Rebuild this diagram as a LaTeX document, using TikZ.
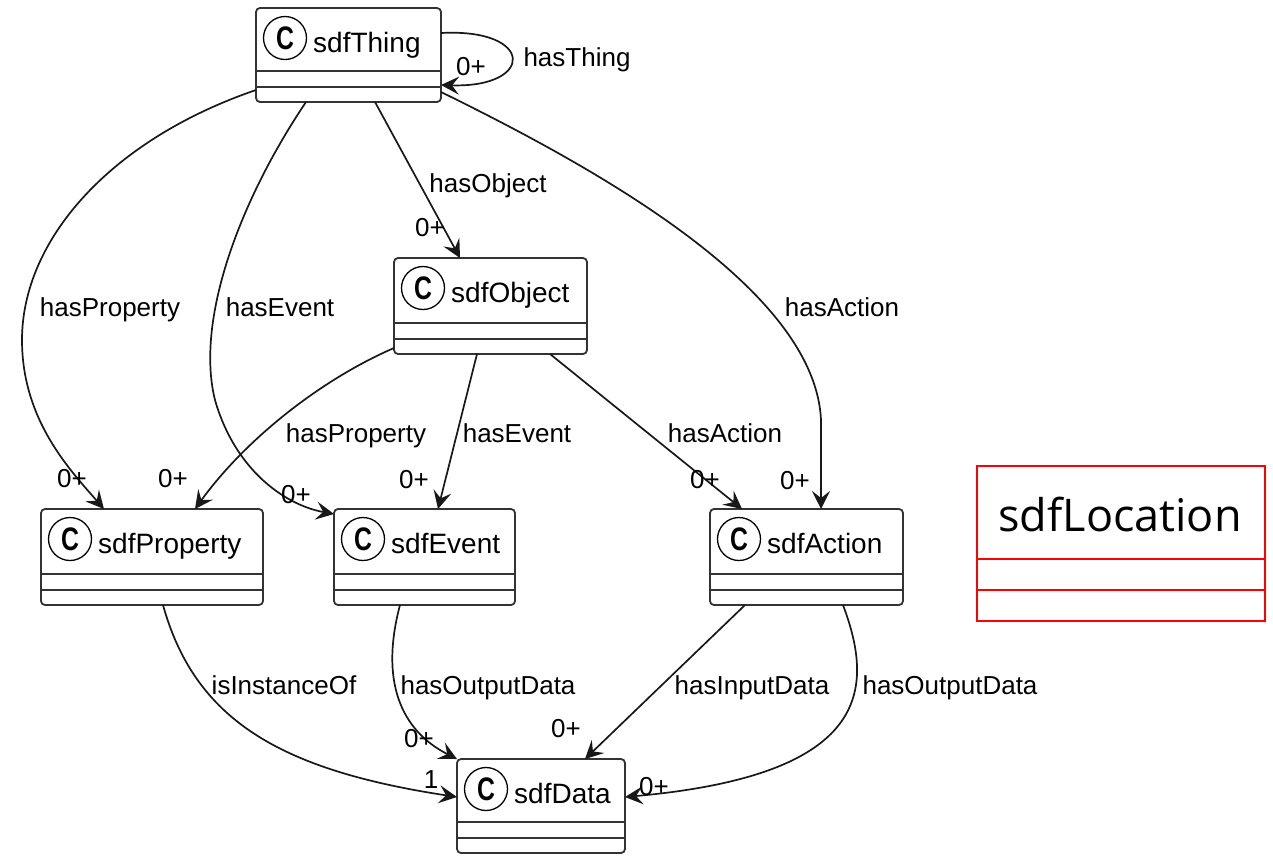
\documentclass[tikz,border=0pt]{standalone}
\usepackage{fontspec}
\setmainfont{Liberation Sans}
\newfontfamily\locfont{Open Sans}
\usetikzlibrary{arrows.meta,calc}
\definecolor{linec}{HTML}{181818}
\definecolor{boxc}{HTML}{333333}
\newcommand{\umlclass}[6]{%
  \node[classbox, minimum width={(#4)-(#2)}, minimum height={(#5)-(#3)}] (#1) at ({((#2)+(#4))/2},{((#3)+(#5))/2}) {};
  \draw[classline] ([yshift=31pt]#1.south west) -- ([yshift=31pt]#1.south east);
  \draw[classline] ([yshift=15pt]#1.south west) -- ([yshift=15pt]#1.south east);
  \node[circ] (#1-c) at ([xshift=29pt,yshift=-30pt]#1.north west) {\scalebox{0.8}[1.05]{C}};
  \node[ctitle] (#1-t) at ([xshift=57pt,yshift=-44pt]#1.north west) {#6};
}
\begin{document}
\begin{tikzpicture}[x=1pt,y=-1pt,
  classbox/.style={draw=boxc, line width=1.8pt, rounded corners=4pt, fill=white, inner sep=0pt, outer sep=0pt},
  classline/.style={draw=boxc, line width=1.6pt},
  circ/.style={circle, draw=black, line width=1.3pt, minimum size=43pt, inner sep=0pt, font=\fontsize{31}{31}\selectfont\bfseries},
  ctitle/.style={font=\fontsize{28}{28}\selectfont, inner sep=0pt, anchor=base west},
  lbl/.style={font=\fontsize{26}{26}\selectfont, inner sep=0pt, anchor=base},
  edge/.style={draw=linec, line width=1.7pt, -{Stealth[length=18pt,width=18pt,inset=7pt]}},
  locbox/.style={draw=red, line width=2.5pt, inner sep=0pt, outer sep=0pt}
]
\useasboundingbox (0,0) rectangle (1273,855);

\umlclass{T}{256}{8}{441}{102}{sdfThing}
\umlclass{O}{394}{258}{587}{354}{sdfObject}
\umlclass{P}{41}{509}{263}{605}{sdfProperty}
\umlclass{E}{334}{509}{515}{605}{sdfEvent}
\umlclass{A}{710}{509}{903}{605}{sdfAction}
\umlclass{D}{457}{759}{625}{853}{sdfData}

% sdfLocation
\node[locbox, minimum width=288pt, minimum height=155pt] (L) at (1121,543.5) {};
\draw[locbox] ([yshift=62pt]L.south west) -- ([yshift=62pt]L.south east);
\draw[locbox] ([yshift=31pt]L.south west) -- ([yshift=31pt]L.south east);
\node[font=\locfont\fontsize{45}{45}\selectfont, inner sep=0pt, anchor=base] (L-t) at (1120,531) {sdfLocation};

% edges
\draw[edge] ($(T.north east)+(0,25)$) .. controls (535,28) and (535,88) .. ($(T.north east)+(0,77)$);
\draw[edge] ($(T.north west)+(0,82)$) .. controls (110,140) and (22,240) .. (22,340) .. controls (22,420) and (70,470) .. ($(P.north west)+(63,0)$);
\draw[edge] ($(T.north west)+(50,94)$) .. controls (240,200) and (195,320) .. (215,400) .. controls (235,470) and (285,505) .. ($(E.north west)+(0,5)$);
\draw[edge] ($(T.north west)+(119,94)$) -- ($(O.north west)+(66,0)$);
\draw[edge] ($(T.north east)+(0,84)$) .. controls (600,170) and (815,290) .. (821,420) -- ($(A.north west)+(111,0)$);
\draw[edge] ($(O.north west)+(0,90)$) .. controls (320,380) and (245,440) .. ($(P.north west)+(154,0)$);
\draw[edge] ($(O.south west)+(83,0)$) -- ($(E.north west)+(104,0)$);
\draw[edge] ($(O.south west)+(156,0)$) -- ($(A.north west)+(32,0)$);
\draw[edge] ($(P.south west)+(122,0)$) .. controls (195,720) and (280,770) .. ($(D.north west)+(0,38)$);
\draw[edge] ($(E.south west)+(66,0)$) .. controls (380,680) and (400,730) .. (D.north west);
\draw[edge] ($(A.south west)+(35,0)$) -- ($(D.north west)+(128,0)$);
\draw[edge] ($(A.south west)+(133,0)$) .. controls (875,690) and (870,775) .. ($(D.north east)+(0,38)$);

% labels
\node[lbl] (l1) at (577,66) {hasThing};
\node[lbl] (m1) at (471,75) {0+};
\node[lbl] (l2) at (488,192) {hasObject};
\node[lbl] (m2) at (430,236) {0+};
\node[lbl] (l3) at (110,316) {hasProperty};
\node[lbl] (m3) at (72,487) {0+};
\node[lbl] (l4) at (280,316) {hasEvent};
\node[lbl] (m4) at (296,503) {0+};
\node[lbl] (l5) at (842,316) {hasAction};
\node[lbl] (m5) at (795,489) {0+};
\node[lbl] (l6) at (356,442) {hasProperty};
\node[lbl] (m6) at (173,487) {0+};
\node[lbl] (l7) at (517,442) {hasEvent};
\node[lbl] (m7) at (414,488) {0+};
\node[lbl] (l8) at (725,442) {hasAction};
\node[lbl] (m8) at (705,488) {0+};
\node[lbl] (l9) at (284,694) {isInstanceOf};
\node[lbl] (m9) at (431,788) {1};
\node[lbl] (l10) at (488,694) {hasOutputData};
\node[lbl] (m10) at (419,747) {0+};
\node[lbl] (l11) at (752,694) {hasInputData};
\node[lbl] (m11) at (566,737) {0+};
\node[lbl] (l12) at (950,694) {hasOutputData};
\node[lbl] (m12) at (654,795) {0+};
\end{tikzpicture}
\end{document}
